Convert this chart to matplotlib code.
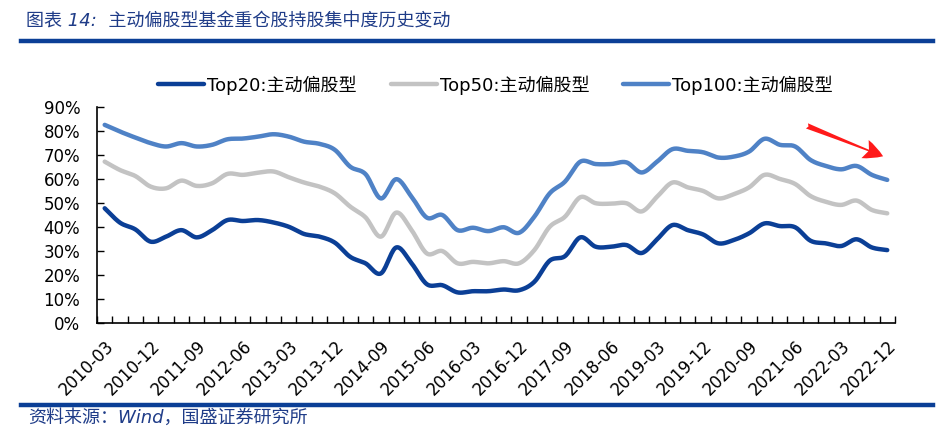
import numpy as np
import matplotlib
matplotlib.use("Agg")
import matplotlib.pyplot as plt
from matplotlib.lines import Line2D

plt.rcParams['font.family'] = ['DejaVu Sans', 'Noto Sans CJK SC']

quarters = []
for yr in range(2010, 2023):
    for m in ("03", "06", "09", "12"):
        quarters.append(f"{yr}-{m}")

top20 = [47.8, 41.8, 39.0, 33.9, 36.0, 38.7, 35.7, 38.7, 42.9, 42.5, 42.9, 41.9,
         40.1, 37.1, 36.0, 33.5, 27.6, 24.9, 20.7, 31.5, 24.9, 16.2, 15.8, 12.8,
         13.3, 13.3, 14.0, 13.7, 17.2, 26.0, 27.9, 35.7, 31.8, 31.8, 32.5, 29.2,
         34.9, 40.8, 38.7, 36.9, 33.2, 34.6, 37.4, 41.5, 40.4, 39.9, 34.3, 33.2,
         32.1, 34.9, 31.5, 30.4]
top50 = [67.2, 63.7, 61.2, 56.8, 56.1, 59.3, 57.1, 58.2, 62.1, 61.7, 62.6, 63.1,
         60.7, 58.5, 56.8, 54.0, 48.5, 44.0, 36.0, 46.0, 38.7, 29.0, 30.0, 24.9,
         25.5, 24.9, 25.8, 24.9, 30.4, 40.1, 44.3, 52.4, 49.9, 49.7, 49.9, 46.5,
         52.6, 58.5, 56.5, 55.0, 51.9, 53.7, 56.5, 61.7, 60.0, 57.9, 52.9, 50.5,
         49.2, 51.0, 47.1, 45.7]
top100 = [82.5, 79.7, 77.2, 74.9, 73.5, 74.9, 73.5, 74.2, 76.5, 76.8, 77.6, 78.6,
          77.6, 75.5, 74.6, 72.1, 65.1, 62.0, 51.9, 59.9, 52.6, 43.9, 45.0, 38.7,
          39.7, 38.3, 39.9, 37.6, 44.3, 54.0, 58.9, 67.2, 66.2, 66.2, 66.9, 62.7,
          67.2, 72.4, 71.7, 71.1, 68.9, 69.3, 71.4, 76.7, 74.2, 73.5, 67.9, 65.4,
          64.0, 65.4, 61.7, 59.6]

series_names = ["Top20:主动偏股型", "Top50:主动偏股型", "Top100:主动偏股型"]
series_colors = ["#0B3F96", "#C3C3C3", "#4F82C6"]
y_ticks = [0, 10, 20, 30, 40, 50, 60, 70, 80, 90]
y_tick_labels = ["0%", "10%", "20%", "30%", "40%", "50%", "60%", "70%", "80%", "90%"]
label_step = 3

title = "图表 14:  主动偏股型基金重仓股持股集中度历史变动"
source = "资料来源：Wind，国盛证券研究所"


def smooth(x, y, n=16):
    x = np.asarray(x, float)
    y = np.asarray(y, float)
    xp = np.concatenate([[2 * x[0] - x[1]], x, [2 * x[-1] - x[-2]]])
    yp = np.concatenate([[2 * y[0] - y[1]], y, [2 * y[-1] - y[-2]]])
    xs, ys = [], []
    t = np.linspace(0, 1, n, endpoint=False)
    for i in range(1, len(xp) - 2):
        p0x, p1x, p2x, p3x = xp[i - 1:i + 3]
        p0y, p1y, p2y, p3y = yp[i - 1:i + 3]
        c1x, c1y = p1x + (p2x - p0x) / 6, p1y + (p2y - p0y) / 6
        c2x, c2y = p2x - (p3x - p1x) / 6, p2y - (p3y - p1y) / 6
        b0 = (1 - t) ** 3
        b1 = 3 * (1 - t) ** 2 * t
        b2 = 3 * (1 - t) * t ** 2
        b3 = t ** 3
        xs.append(b0 * p1x + b1 * c1x + b2 * c2x + b3 * p2x)
        ys.append(b0 * p1y + b1 * c1y + b2 * c2y + b3 * p2y)
    xs.append([x[-1]])
    ys.append([y[-1]])
    return np.concatenate(xs), np.concatenate(ys)


fig = plt.figure(figsize=(9.42, 4.47), dpi=100)
ax = fig.add_axes([0.103, 0.277, 0.847, 0.484])

xidx = np.arange(len(quarters))
for vals, name, col in zip([top20, top50, top100], series_names, series_colors):
    sx, sy = smooth(xidx, vals)
    ax.plot(sx, sy, color=col, lw=3.2, label=name, solid_capstyle='round')

ax.set_xlim(-0.5, len(quarters) - 0.5)
ax.set_ylim(0, 90)
ax.set_yticks(y_ticks)
ax.set_yticklabels(y_tick_labels, fontsize=12)
ax.set_xticks(xidx[::label_step])
ax.set_xticklabels(quarters[::label_step], rotation=45, ha='right', va='top',
                   rotation_mode='anchor', fontsize=12)
ax.set_xticks(np.arange(len(quarters) + 1) - 0.5, minor=True)
ax.tick_params(axis='x', which='major', length=0, pad=10)
ax.tick_params(axis='x', which='minor', direction='in', length=5, width=1)
ax.tick_params(axis='y', direction='in', length=5, width=1, pad=12)
for s in ("top", "right"):
    ax.spines[s].set_visible(False)
for s in ("left", "bottom"):
    ax.spines[s].set_linewidth(1.2)

leg = ax.legend(loc='center', bbox_to_anchor=(0.526, 0.81), bbox_transform=fig.transFigure,
                ncol=3, frameon=False, fontsize=13, handlelength=2.55,
                handletextpad=0.15, columnspacing=1.9)

# red arrow annotation
arrow_tail = (45.6, 82.5)
arrow_head = (50.9, 69.0)
ax.annotate("", xy=arrow_head, xytext=arrow_tail,
            arrowprops=dict(arrowstyle='fancy,head_length=0.7,head_width=0.7,tail_width=0.2',
                            color='#FF1A1A', lw=0, mutation_scale=20))

fig.text(0.028, 0.952, title, fontsize=13, color='#1F3C88', style='italic',
         va='center', ha='left', family=['DejaVu Sans', 'Noto Sans CJK SC'])
fig.add_artist(Line2D([0.022, 0.99], [0.908, 0.908], transform=fig.transFigure,
                      color='#0B3F96', lw=3.2))
fig.add_artist(Line2D([0.022, 0.99], [0.094, 0.094], transform=fig.transFigure,
                      color='#0B3F96', lw=3.2))
fig.text(0.03, 0.066, source, fontsize=13, color='#1F3C88', style='italic',
         va='center', ha='left', family=['DejaVu Sans', 'Noto Sans CJK SC'])

fig.savefig("out.png", dpi=100)
